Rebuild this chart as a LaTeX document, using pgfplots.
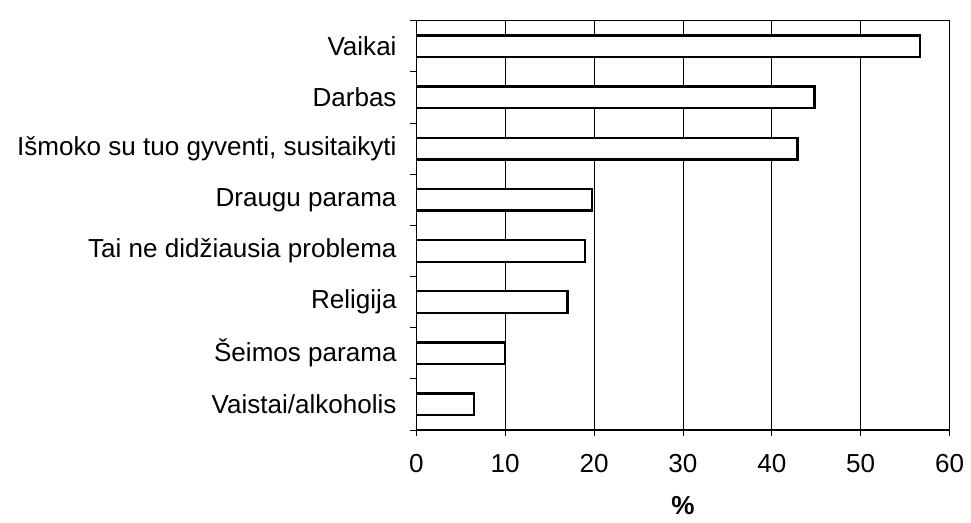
\documentclass[border=0pt]{standalone}
\usepackage{pgfplots}
\pgfplotsset{compat=1.18}
\usepackage{fontspec}
\setmainfont{Liberation Sans}

\begin{document}
\begin{tikzpicture}
\begin{axis}[
    width=258pt, height=198pt,
    scale only axis,
    xbar, bar width=10.5pt, bar shift=0pt,
    xmin=0, xmax=60,
    ymin=-0.5, ymax=7.5,
    xtick={0,10,...,60},
    ytick={0,...,7},
    yticklabels={Vaistai/alkoholis, Šeimos parama, Religija,
        Tai ne didžiausia problema, Draugu parama,
        Išmoko su tuo gyventi{,} susitaikyti, Darbas, Vaikai},
    minor ytick={-0.5,0.5,...,7.5},
    major y tick style={draw=none},
    minor tick length=3pt,
    major tick length=3pt,
    x tick style={black, line width=0.4pt},
    y tick style={black, line width=0.4pt},
    tick align=outside,
    xtick pos=bottom, ytick pos=left,
    xmajorgrids=true,
    grid style={black, line width=0.4pt},
    axis line style={black, line width=0.5pt},
    tick label style={font=\fontsize{12.6}{14}\selectfont},
    /pgf/number format/assume math mode=true,
    xticklabel style={yshift=-5pt},
    yticklabel style={xshift=-3pt},
    xlabel={\textbf{\%}},
    xlabel style={font=\fontsize{12.6}{14}\selectfont, yshift=-5pt},
]
\addplot[fill=white, draw=black, line width=1.1pt] coordinates {
    (6.5,0) (10,1) (17,2) (19,3) (19.8,4) (42.9,5) (44.8,6) (56.7,7)
};
\end{axis}
\path ([yshift=10pt]current axis.north) -- ([xshift=-5pt]current bounding box.west);
\end{tikzpicture}
\end{document}
